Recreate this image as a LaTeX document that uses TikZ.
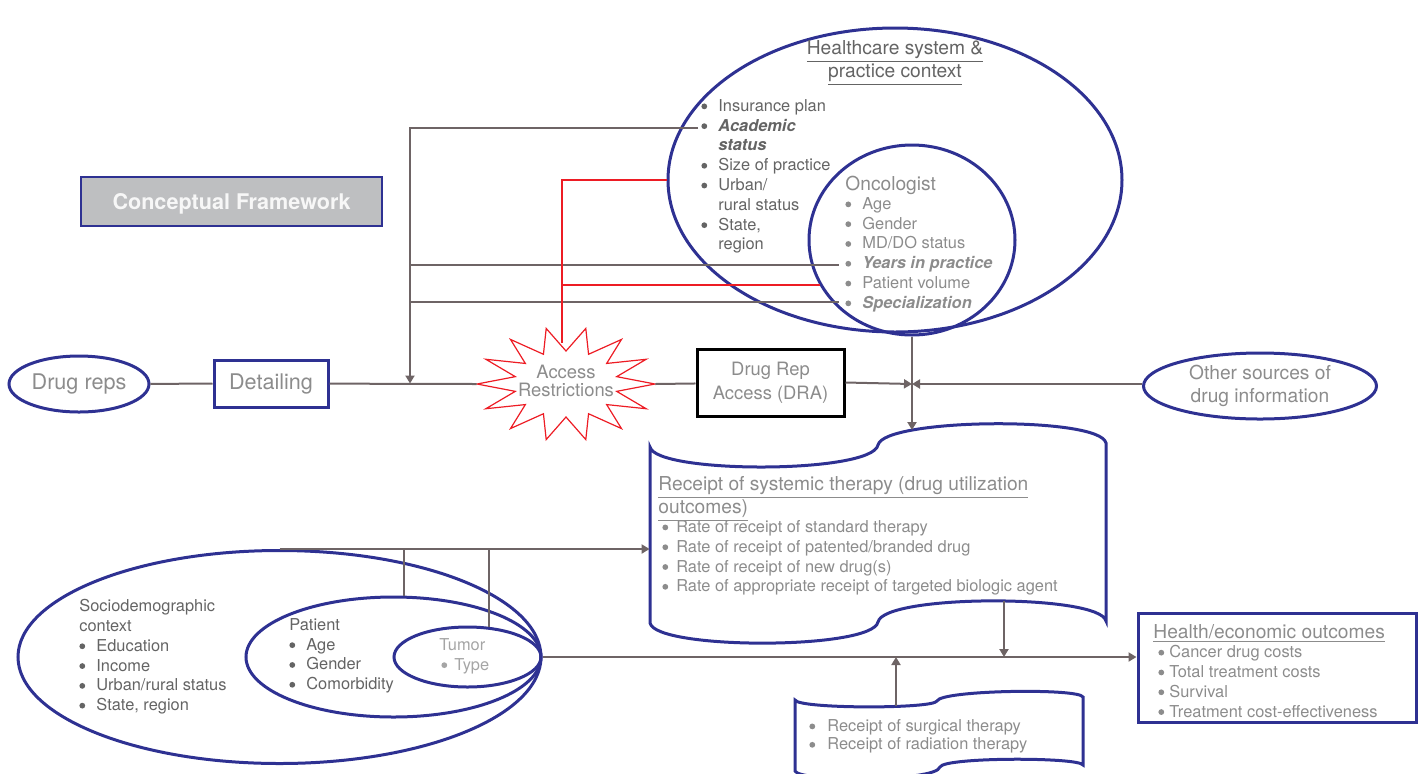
\documentclass[tikz,border=0pt]{standalone}
\usepackage{fontspec}
\setmainfont{TeX Gyre Heros}
\usetikzlibrary{shapes.geometric,arrows.meta}
\definecolor{navy}{RGB}{46,49,146}
\definecolor{linegray}{RGB}{110,100,101}
\definecolor{starred}{RGB}{237,28,36}
\definecolor{boxgray}{RGB}{190,191,193}
\definecolor{txtdark}{RGB}{100,100,100}
\definecolor{txtlight}{RGB}{140,140,140}
\definecolor{txtpale}{RGB}{165,165,165}
\newcommand\smallsz{\fontsize{8.2}{9.9}\selectfont}
\newcommand\titlesz{\fontsize{9.6}{11.5}\selectfont}
\newcommand\bigsz{\fontsize{10.8}{13}\selectfont}
\newcommand\bul[1][8.5pt]{\makebox[#1][l]{\tikz[baseline={(0pt,-2.5pt)}]\fill (1.5pt,0pt) circle[radius=1.45pt];}}
\begin{document}
\begin{tikzpicture}[x=0.5pt,y=-0.5pt,
  conn/.style={draw=linegray,line width=1pt},
  redconn/.style={draw=starred,line width=1pt},
  tip/.style={-{Triangle[length=4pt,width=4.5pt]}},
  blueline/.style={draw=navy,line width=1.5pt},
  oval/.style={ellipse,blueline,inner sep=0pt},
  list/.style={anchor=north west,inner sep=0pt,align=left,font=\smallsz}]
\useasboundingbox (0,0) rectangle (1421,773);

\node[draw=navy,line width=1.2pt,fill=boxgray,minimum width=150.5pt,minimum height=24.5pt,text height=7.8pt,text depth=0pt,font=\bigsz\bfseries,text=white!94!gray] (frame) at (231.5,201.5) {Conceptual Framework};

% contexts
\node[oval,minimum width=227pt,minimum height=152pt] (hcs) at (895,180) {};
\node[oval,minimum width=103pt,minimum height=95pt] (onc) at (912,240) {};
\node[oval,minimum width=261.5pt,minimum height=106.5pt] (socio) at (279.5,657) {};
\node[oval,minimum width=147.5pt,minimum height=60pt] (patient) at (393.5,657) {};
\node[oval,minimum width=73.5pt,minimum height=30pt] (tumor) at (467.5,657) {};

\node[align=center,font=\titlesz,text=txtdark] (hcstitle) at (895,63) {\underline{Healthcare system \&}\\\underline{practice context}};
\node[list,text=txtdark] (hcslist) at (701,99) {\bul Insurance plan\\\bul\textbf{\textit{Academic}}\\\hphantom{\bul}\textbf{\textit{status}}\\\bul Size of practice\\\bul Urban/\\\hphantom{\bul}rural status\\\bul State,\\\hphantom{\bul}region};
\node[anchor=north west,inner sep=0pt,font=\titlesz,text=txtlight] (onctitle) at (845,176) {Oncologist};
\node[list,text=txtlight] (onclist) at (845,197) {\bul Age\\\bul Gender\\\bul MD/DO status\\\bul\textbf{\textit{Years in practice}}\\\bul Patient volume\\\bul\textbf{\textit{Specialization}}};

\node[list,text=txtdark] (sociolist) at (79,599) {Sociodemographic\\context\\\bul Education\\\bul Income\\\bul Urban/rural status\\\bul State, region};
\node[list,text=txtdark] (patientlist) at (289,618) {Patient\\\bul Age\\\bul Gender\\\bul Comorbidity};
\node[list,text=txtpale] (tumorlist) at (439,638) {Tumor\\\hspace*{1pt}\bul[6.5pt]Type};

% main chain
\node[oval,minimum width=70pt,minimum height=28pt,font=\bigsz,text=txtlight] (reps) at (79,384) {Drug reps};
\node[draw=navy,line width=1.5pt,minimum width=57pt,minimum height=23.5pt,font=\bigsz,text=txtlight] (detail) at (271,383.5) {Detailing};
\node[ellipse,inner sep=0pt,minimum width=89pt,minimum height=57pt,text depth=3pt,align=center,font=\fontsize{9.2}{9}\selectfont,text=txtlight] (access) at (566,384) {Access\\Restrictions};
\draw[draw=starred,line width=0.6pt,shift={(access.center)}] plot[samples at={0,...,27}] ({(89-37*mod(\x,2))*cos(\x*360/28)},{(57-24*mod(\x,2))*sin(\x*360/28)}) -- cycle;
\node[draw=black,line width=1.5pt,minimum width=73.5pt,minimum height=33.5pt,align=center,font=\fontsize{9.2}{12}\selectfont,text=txtlight] (dra) at (770.5,382.5) {Drug Rep\\Access (DRA)};
\node[oval,minimum width=116.5pt,minimum height=33pt,align=center,font=\titlesz,text=txtlight] (other) at (1260,386) {Other sources of\\drug information};

% outcomes
\node[minimum width=228pt,minimum height=109pt,inner sep=0pt] (systher) at (878,534) {};
\draw[blueline] (650,623) -- (650,447) .. controls (656,474) and (872,474) .. (878,445)
  .. controls (884,418) and (1100,416) .. (1106,443) -- (1106,621)
  .. controls (1100,594) and (884,594) .. (878,622) .. controls (872,650) and (656,650) .. cycle;
\node[list,font=\titlesz,text=txtlight] (systitle) at (658,476) {\underline{Receipt of systemic therapy (drug utilization}\\\underline{outcomes)}};
\node[list,text=txtlight] (syslist) at (662,520) {\bul[7pt]Rate of receipt of standard therapy\\\bul[7pt]Rate of receipt of patented/branded drug\\\bul[7pt]Rate of receipt of new drug(s)\\\bul[7pt]Rate of appropriate receipt of targeted biologic agent};

\node[minimum width=144pt,minimum height=45pt,inner sep=0pt] (surg) at (939,735) {};
\draw[blueline] (795,771) -- (795,700) .. controls (799,709) and (933,709) .. (937,701)
  .. controls (941,690) and (1079,688) .. (1083,697) -- (1083,765)
  .. controls (1079,757) and (944,757) .. (940,767) .. controls (936,782) and (799,782) .. cycle;
\node[list,font=\fontsize{8.2}{9.2}\selectfont,text=txtlight] (surglist) at (809,719) {\bul[9pt]Receipt of surgical therapy\\\bul[9pt]Receipt of radiation therapy};

\node[draw=navy,line width=1.5pt,minimum width=139pt,minimum height=54.5pt] (health) at (1277,667.5) {};
\node[list,font=\titlesz,text=txtlight] (healthtitle) at (1153,624) {\underline{Health/economic outcomes}};
\node[list,text=txtlight] (healthlist) at (1158,645) {\bul[5.5pt]Cancer drug costs\\\bul[5.5pt]Total treatment costs\\\bul[5.5pt]Survival\\\bul[5.5pt]Treatment cost-effectiveness};

% connector ends
\coordinate (feed) at (410,383.5);
\coordinate (academic) at (698,128);
\coordinate (years) at (839,265);
\coordinate (special) at (839,302);
\coordinate (acctop) at (562,343);
\coordinate (merge) at (912,384);
\coordinate (systop) at (912,430);
\coordinate (sysout) at (1004,601);
\coordinate (surgout) at (896,706);

\draw[conn] (reps) -- (detail);
\draw[conn] (detail) -- (access.west);
\draw[conn] (access.east) -- (dra);
\draw[conn,tip] (academic) -| (feed);
\draw[conn] (feed |- years) -- (years);
\draw[conn] (feed |- special) -- (special);
\draw[redconn] (hcs.west) -| (acctop);
\draw[redconn] (onc.206) -- (onc.206 -| acctop);
\draw[conn,tip] (dra.east) -- (merge);
\draw[conn,tip] (merge -| other.west) -- (merge);
\draw[conn,tip] (onc.south) -- (systop);
\draw[conn,tip] (socio.north) -- (socio.north -| systher.west);
\draw[conn] (patient.80) -- (patient.80 |- socio.north);
\draw[conn] (tumor.55) -- (tumor.55 |- socio.north);
\draw[conn,tip] (tumor.east) -- (tumor.east -| health.west);
\draw[conn,tip] (sysout) -- (sysout |- tumor.east);
\draw[conn,tip] (surgout) -- (surgout |- tumor.east);
\end{tikzpicture}
\end{document}
